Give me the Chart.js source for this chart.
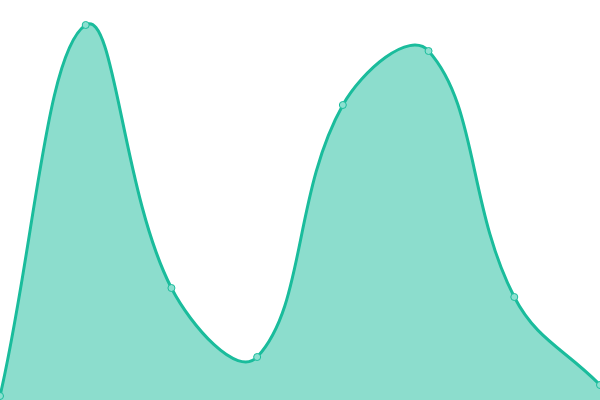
<!DOCTYPE html>
<html lang="en">
<head>
    <meta charset="UTF-8">
    <title>Area Chart</title>
    <script src="https://cdn.jsdelivr.net/npm/chart.js@4.4.0/dist/chart.umd.min.js"></script>
    <style>
        html, body {
            margin: 0;
            padding: 0;
            background: #ffffff;
        }
        .chart-container {
            width: 600px;
            height: 400px;
        }
    </style>
</head>
<body>
    <div class="chart-container">
        <canvas id="areaChart"></canvas>
    </div>

    <script>
        // Data
        const labels = ['1', '2', '3', '4', '5', '6', '7', '8'];
        const values = [4, 375, 112, 43, 295, 349, 103, 15];

        const ctx = document.getElementById('areaChart').getContext('2d');
        new Chart(ctx, {
            type: 'line',
            data: {
                labels: labels,
                datasets: [{
                    data: values,
                    fill: true,
                    tension: 0.4,
                    borderColor: '#1abc9c',
                    backgroundColor: 'rgba(26, 188, 156, 0.5)',
                    borderWidth: 3,
                    pointRadius: 3.5,
                    pointBorderWidth: 1,
                    pointBackgroundColor: 'rgba(140, 224, 208, 1)',
                    pointBorderColor: '#1abc9c'
                }]
            },
            options: {
                responsive: true,
                maintainAspectRatio: false,
                animation: false,
                layout: { padding: 0, autoPadding: false },
                plugins: {
                    legend: { display: false },
                    tooltip: { enabled: false }
                },
                scales: {
                    x: { display: false },
                    y: { display: false, min: 0, max: 400 }
                }
            }
        });
    </script>
</body>
</html>
